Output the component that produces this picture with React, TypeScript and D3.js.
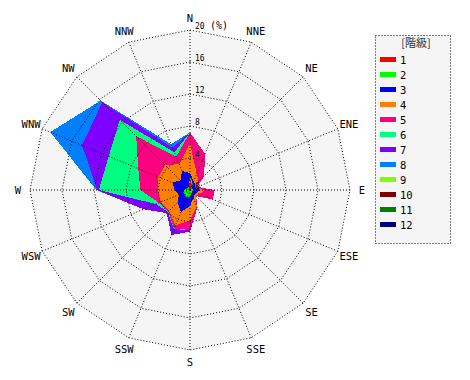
import React from "react";
import * as d3 from "d3";

const directions = ["N","NNE","NE","ENE","E","ESE","SE","SSE","S","SSW","SW","WSW","W","WNW","NW","NNW"];
const classes = ["1","2","3","4","5","6","7","8","9","10","11","12"];
const colors = ["#ff0000","#00ff00","#0000ff","#ff8000","#ff0080","#00ff80","#8000ff","#0080ff","#80ff00","#800000","#008000","#000080"];
const ticks = [4, 8, 12, 16, 20];

// frequency (%) of each class per direction (N clockwise)
const class1 = [1.6,0.6,0.3,0.2,0.2,0.1,0.1,0.1,0.1,0.1,0.1,0.1,0.2,0.2,0.2,0.3];
const class2 = [0.1,0.3,0.1,0.1,0.2,0.3,0.2,0.4,0.7,0.9,0.8,0.8,0.5,0.3,0.2,0.1];
const class3 = [0.4,0.3,0.5,0.3,0.9,0.5,0.5,0.6,1.2,2.0,1.3,0.6,1.2,1.9,1.3,2.2];
const class4 = [3.7,1.0,0.6,0.1,0.6,0.4,0.2,1.1,1.8,1.8,1.5,2.5,2.1,1.9,2.7,0.9];
const class5 = [1.4,2.7,1.0,0.3,1.2,1.8,0.1,0.2,1.2,0.4,0.1,0.2,2.2,2.7,5.1,1.0];
const class6 = [0,0,0,0,0,0,0,0,0,0.1,0.1,0.4,5.2,4.0,2.9,0.6];
const class7 = [0,0,0,0,0,0,0,0,0.2,0.8,0.2,1.7,0.2,3.6,3.1,0.6];
const class8 = [0,0,0,0,0,0,0,0,0,0,0,0,0.1,4.3,0.3,0.5];
const class9 = [0,0,0,0,0,0,0,0,0,0,0,0,0,0,0,0];
const class10 = [0,0,0,0,0,0,0,0,0,0,0,0,0,0,0,0];
const class11 = [0,0,0,0,0,0,0,0,0,0,0,0,0,0,0,0];
const class12 = [0,0,0,0,0,0,0,0,0,0,0,0,0,0,0,0];

const series = [class1,class2,class3,class4,class5,class6,class7,class8,class9,class10,class11,class12];

export default function App() {
  const W = 470, H = 380;
  const cx = 190, cy = 190, R = 160;
  const r = d3.scaleLinear().domain([0, 20]).range([0, R]);
  const angle = d3.scaleLinear().domain([0, directions.length]).range([0, 2 * Math.PI]);

  const cum: number[][] = [];
  series.forEach((s, k) => {
    cum.push(s.map((v, i) => v + (k > 0 ? cum[k - 1][i] : 0)));
  });

  const radial = d3.lineRadial<number>()
    .angle((_, i) => angle(i))
    .radius((d) => r(d))
    .curve(d3.curveLinearClosed);

  const ring = (v: number) => radial(directions.map(() => v)) as string;

  const pt = (i: number, rad: number) => {
    const a = angle(i);
    return [cx + rad * Math.sin(a), cy - rad * Math.cos(a)];
  };

  const dot = "1,2";
  const monoFont = "'DejaVu Sans Mono', monospace";

  return (
    <svg width={W} height={H} style={{ position: "absolute", left: 0, top: 0, background: "#fff" }}>
      <g transform={`translate(${cx},${cy})`}>
        <path d={ring(20)} fill="#f5f5f5" stroke="none" />
        {cum.map((c, k) => k).reverse().map((k) => (
          <path key={k} d={radial(cum[k]) as string} fill={colors[k]} stroke="none" shapeRendering="crispEdges" />
        ))}
        {ticks.map((t) => (
          <path key={t} d={ring(t)} fill="none" stroke="#000" strokeWidth={1} strokeDasharray={dot} />
        ))}
        {directions.map((d, i) => {
          const [x, y] = pt(i, R);
          return <line key={d} x1={0} y1={0} x2={x - cx} y2={y - cy} stroke="#000" strokeWidth={1} strokeDasharray={dot} />;
        })}
      </g>
      {ticks.map((t) => (
        <text key={t} x={cx + 5} y={cy - r(t) - 1} fontFamily={monoFont} fontSize={8} fill="#000">
          {String(t)}
        </text>
      ))}
      <text x={cx + 5} y={cy - 1} fontFamily={monoFont} fontSize={8} fill="#000">0</text>
      <text x={cx + 20} y={cy - r(20) - 1} fontFamily={monoFont} fontSize={10} fill="#000">(%)</text>
      {directions.map((d, i) => {
        const [x, y] = pt(i, 172);
        return (
          <text key={d} x={x} y={y} textAnchor="middle" dominantBaseline="central" fontFamily={monoFont} fontSize={10.5} fill="#000">{d}</text>
        );
      })}
      <g>
        <rect x={375.5} y={35.5} width={75} height={208} fill="#f5f5f5" stroke="#000" strokeDasharray={dot} />
        <text x={416} y={47} textAnchor="middle" fontFamily="'Noto Sans CJK JP', sans-serif" fontSize={11} fill="#333">[階級]</text>
        {classes.map((c, k) => (
          <g key={c}>
            <rect x={380} y={57 + k * 15} width={16} height={5} fill={colors[k]} />
            <text x={400} y={59.5 + k * 15} dominantBaseline="central" fontFamily={monoFont} fontSize={10.5} fill="#000">{c}</text>
          </g>
        ))}
      </g>
    </svg>
  );
}
